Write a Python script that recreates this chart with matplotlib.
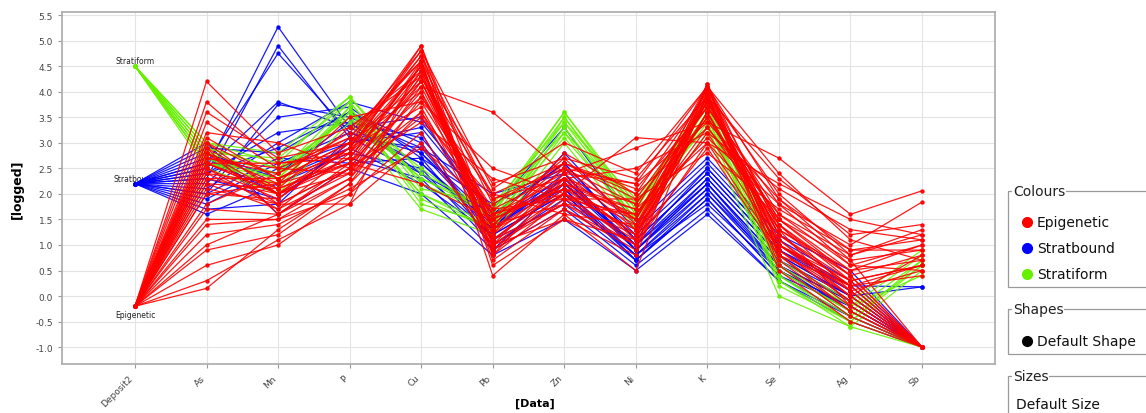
import matplotlib
matplotlib.use("Agg")
import matplotlib.pyplot as plt
from matplotlib.patches import Rectangle

# axes of the parallel plot
columns = ["Deposit2", "As", "Mn", "P", "Cu", "Pb", "Zn", "Ni", "K", "Se", "Ag", "Sb"]
deposit_names = ["Epigenetic", "Stratbound", "Stratiform"]
deposit_values = [-0.2, 2.2, 4.5]
deposit_colors = ["#ff0000", "#0000ff", "#66f000"]

# rows: As, Mn, P, Cu, Pb, Zn, Ni, K, Se, Ag, Sb
epigenetic = [
    [2.6, 2.0, 2.7, 4.5, 1.2, 2.3, 1.5, 3.9, 1.2, 0.2, -1.0],
    [2.8, 2.2, 2.9, 4.7, 1.0, 2.0, 1.3, 4.1, 1.0, 0.0, -1.0],
    [2.4, 1.8, 2.5, 4.3, 1.4, 2.5, 1.8, 3.7, 1.5, 0.4, -1.0],
    [3.0, 2.3, 3.0, 4.9, 0.8, 1.9, 1.1, 4.15, 0.8, -0.2, -1.0],
    [2.2, 1.7, 2.4, 4.0, 1.5, 2.2, 1.6, 3.5, 1.3, 0.5, 0.7],
    [1.5, 1.5, 2.3, 3.8, 1.6, 2.1, 1.4, 3.3, 1.4, 0.3, 0.6],
    [0.15, 1.3, 2.2, 3.6, 1.1, 1.8, 1.2, 3.6, 1.1, 0.1, 0.5],
    [0.6, 1.0, 2.0, 3.2, 0.9, 1.7, 1.0, 3.0, 0.9, 0.0, 0.8],
    [1.0, 1.6, 2.6, 4.2, 1.3, 2.0, 1.5, 3.8, 1.6, 0.6, 1.0],
    [3.4, 2.5, 3.1, 4.6, 1.8, 2.6, 2.0, 4.0, 2.0, 0.8, 1.2],
    [4.2, 2.8, 3.3, 4.4, 2.2, 2.7, 2.3, 3.9, 2.3, 1.2, 1.4],
    [3.8, 2.6, 2.8, 4.1, 3.6, 2.4, 2.9, 3.4, 2.7, 1.6, 2.06],
    [2.9, 2.1, 2.6, 3.9, 2.0, 2.6, 2.1, 3.7, 1.8, 1.0, 1.84],
    [2.5, 1.9, 2.9, 4.8, 0.6, 1.5, 0.8, 4.1, 0.6, -0.4, -1.0],
    [2.7, 2.4, 3.2, 4.6, 0.4, 1.6, 0.5, 4.0, 0.5, -0.5, -1.0],
    [2.3, 2.0, 2.4, 3.5, 1.9, 2.3, 2.5, 3.2, 2.1, 1.3, 1.1],
    [1.2, 1.4, 2.1, 2.9, 1.7, 1.9, 1.9, 2.8, 1.7, 0.9, 0.9],
    [2.0, 2.2, 3.5, 3.8, 2.5, 2.0, 3.1, 3.0, 2.2, 1.5, 1.2],
    [2.6, 2.1, 2.7, 4.4, 1.0, 2.4, 1.3, 3.8, 1.0, 0.2, -1.0],
    [3.1, 2.3, 2.8, 4.5, 1.3, 2.2, 1.7, 4.05, 1.4, 0.1, -1.0],
    [2.1, 1.8, 2.5, 4.3, 1.5, 2.7, 1.4, 3.9, 1.2, 0.3, -1.0],
    [2.8, 2.0, 3.0, 4.0, 1.1, 2.1, 1.2, 3.6, 0.9, -0.1, -1.0],
    [0.9, 1.2, 2.2, 4.1, 1.4, 1.8, 1.6, 3.5, 1.3, 0.4, 0.8],
    [0.3, 1.1, 1.8, 3.0, 1.0, 1.5, 1.1, 2.9, 0.8, 0.2, 0.6],
    [3.6, 2.7, 3.0, 4.7, 1.9, 2.5, 2.2, 4.1, 1.9, 0.7, -1.0],
    [2.4, 2.2, 2.6, 4.6, 0.7, 1.7, 0.9, 3.95, 0.7, -0.3, -1.0],
    [2.9, 1.6, 2.3, 4.2, 1.6, 2.3, 1.8, 3.7, 1.5, 0.5, 1.0],
    [2.0, 1.9, 2.9, 3.7, 1.2, 2.8, 2.0, 3.3, 1.6, 0.8, 1.3],
    [1.8, 2.4, 3.1, 4.8, 2.1, 3.0, 2.4, 4.1, 2.4, 1.1, 0.7],
    [2.6, 2.6, 2.7, 4.5, 0.9, 2.0, 1.0, 3.85, 1.1, 0.0, -1.0],
    [3.2, 3.0, 2.5, 3.4, 2.3, 1.9, 1.6, 3.1, 1.8, 0.6, 0.5],
    [2.5, 1.7, 2.8, 4.9, 1.3, 2.5, 1.5, 4.15, 1.3, -0.2, -1.0],
    [2.7, 2.5, 2.4, 4.4, 1.1, 2.2, 1.2, 4.0, 1.0, 0.1, -1.0],
    [1.4, 1.5, 2.0, 3.9, 1.7, 2.4, 2.2, 3.4, 1.9, 0.9, 1.1],
    [2.2, 2.1, 3.3, 4.3, 2.0, 1.6, 1.4, 3.6, 1.2, 0.2, 0.4],
    [3.0, 2.0, 2.6, 2.2, 1.5, 2.1, 1.7, 3.0, 1.5, 0.7, 0.9],
    [2.8, 1.8, 1.8, 4.6, 0.8, 2.3, 1.1, 3.9, 0.9, -0.1, -1.0],
    [2.3, 2.3, 3.0, 4.2, 1.4, 2.6, 1.9, 3.8, 1.4, 0.4, -1.0],
    [1.7, 1.6, 2.5, 3.6, 1.6, 2.0, 1.3, 3.2, 1.0, 0.3, 0.6],
    [2.6, 2.0, 2.9, 4.5, 1.0, 1.8, 1.0, 4.1, 0.8, -0.3, -1.0],
]

stratbound = [
    [2.5, 5.27, 3.3, 2.6, 1.4, 2.2, 0.9, 2.2, 0.7, -0.1, -1.0],
    [2.3, 4.9, 3.1, 2.4, 1.2, 2.0, 0.8, 2.0, 0.5, -0.2, -1.0],
    [2.6, 4.75, 3.2, 2.8, 1.5, 2.3, 1.0, 2.3, 0.8, 0.0, -1.0],
    [2.0, 3.75, 3.5, 2.9, 1.3, 2.4, 0.9, 2.1, 0.6, -0.3, -1.0],
    [1.8, 2.5, 3.0, 3.3, 1.6, 2.6, 1.1, 2.4, 0.9, 0.1, -1.0],
    [2.9, 2.8, 3.6, 3.0, 1.1, 2.1, 0.7, 1.9, 0.4, -0.4, -1.0],
    [1.6, 2.2, 2.8, 2.5, 1.0, 1.9, 0.8, 1.8, 0.5, -0.2, -1.0],
    [2.2, 3.5, 3.7, 2.7, 1.8, 2.5, 1.2, 2.5, 1.0, 0.2, 0.18],
    [2.7, 2.0, 2.7, 2.3, 0.9, 1.7, 0.6, 1.7, 0.3, -0.5, -1.0],
    [2.4, 3.2, 3.4, 3.1, 1.5, 2.2, 1.0, 2.2, 0.7, 0.0, -1.0],
    [3.0, 1.6, 2.5, 2.0, 0.8, 1.5, 0.5, 1.6, 0.3, -0.4, -1.0],
    [1.9, 2.6, 3.2, 2.6, 1.3, 2.8, 1.3, 2.6, 1.1, 0.3, -1.0],
    [2.1, 3.0, 3.8, 3.4, 1.7, 3.3, 1.4, 2.7, 1.2, 0.5, -1.0],
    [2.8, 2.3, 2.9, 2.2, 1.2, 2.0, 0.7, 2.0, 0.6, -0.1, -1.0],
    [1.7, 1.8, 3.1, 2.9, 2.0, 2.4, 0.9, 2.3, 0.8, 0.0, 0.18],
    [2.5, 3.8, 3.3, 3.5, 1.4, 2.1, 0.8, 2.1, 0.5, -0.3, -1.0],
    [2.0, 2.7, 2.6, 2.7, 1.1, 1.8, 0.7, 1.9, 0.4, -0.2, -1.0],
    [2.6, 2.4, 3.4, 2.4, 1.6, 2.6, 1.1, 2.4, 0.9, 0.2, -1.0],
    [2.3, 1.9, 3.0, 3.2, 0.9, 2.2, 1.0, 2.5, 1.0, 0.1, -1.0],
    [2.4, 2.9, 3.6, 2.8, 1.3, 2.3, 0.9, 2.2, 0.6, -0.1, -1.0],
]

stratiform = [
    [2.8, 2.4, 3.8, 2.2, 1.5, 3.4, 1.6, 3.7, 0.6, -0.4, 0.6],
    [2.6, 2.2, 3.6, 2.0, 1.3, 3.2, 1.4, 3.5, 0.4, -0.5, -1.0],
    [3.0, 2.6, 3.9, 2.4, 1.7, 3.6, 1.8, 3.9, 0.8, -0.2, 0.8],
    [2.7, 2.3, 3.7, 1.8, 1.4, 3.3, 1.5, 3.6, 0.3, -0.6, -1.0],
    [2.9, 2.5, 3.5, 2.3, 1.6, 3.5, 1.7, 3.8, 0.5, -0.3, 0.7],
    [2.5, 2.0, 3.4, 1.7, 1.2, 3.0, 1.3, 3.2, 0.0, -0.6, 0.5],
    [2.8, 2.7, 3.8, 2.1, 1.8, 3.4, 1.9, 3.7, 0.7, -0.1, 0.9],
    [2.6, 2.4, 3.6, 2.5, 1.5, 3.1, 1.5, 3.4, 0.4, -0.4, -1.0],
    [2.7, 2.1, 3.7, 1.9, 1.3, 3.5, 1.6, 3.5, 0.2, -0.5, 0.6],
    [3.0, 2.8, 3.9, 2.2, 1.6, 3.6, 1.7, 3.9, 0.6, -0.2, 0.4],
    [2.9, 2.5, 3.5, 2.0, 1.4, 3.3, 1.5, 3.6, 0.5, -0.3, -1.0],
    [2.6, 2.3, 3.6, 2.3, 1.7, 3.2, 1.8, 3.3, 0.3, -0.5, 0.7],
]

groups = [stratbound, stratiform, epigenetic]
group_idx = [1, 2, 0]

W, H = 1146, 414
fig = plt.figure(figsize=(W / 100, H / 100), dpi=100)
ax = fig.add_axes([62 / W, 1 - 365 / H, (995 - 62) / W, (365 - 13) / H])

xs = list(range(len(columns)))
for rows, gi in zip(groups, group_idx):
    col = deposit_colors[gi]
    for r in rows:
        ax.plot(xs, [deposit_values[gi]] + r, color=col, lw=0.9, marker="o",
                ms=2.2, mec=col, mfc=col, alpha=0.9, zorder=3)

# category labels on the Deposit2 axis
offsets = [-0.17, 0.1, 0.12]
for name, v, off in zip(deposit_names, deposit_values, offsets):
    ax.text(0, v + off, name, fontsize=5.5, ha="center", va="center",
            color="#222222", zorder=2)

ax.set_xlim(-1.02, 12.02)
ax.set_ylim(-1.33, 5.56)
ax.set_xticks(xs)
ax.set_xticklabels(columns, rotation=45, ha="right", fontsize=6.5, color="#444444")
yt = [i * 0.5 - 1.0 for i in range(14)]
ax.set_yticks(yt)
ax.set_yticklabels([f"{v:.1f}" for v in yt], fontsize=6.5, color="#444444")
ax.tick_params(length=3, color="#999999")
ax.grid(True, color="#e4e4e4", lw=0.8, zorder=0)
ax.set_axisbelow(True)
for s in ax.spines.values():
    s.set_color("#aaaaaa")
    s.set_linewidth(1.2)
ax.set_ylabel("[logged]", fontsize=9, fontweight="bold", labelpad=8)

# legend panel drawn in pixel coordinates
lg = fig.add_axes([0, 0, 1, 1], facecolor="none")
lg.set_xlim(0, W)
lg.set_ylim(H, 0)
lg.axis("off")

lg.text(535, 404, "[Data]", fontsize=8, fontweight="bold", ha="center", va="center")

def group_box(top, bottom, title):
    lg.add_patch(Rectangle((1008, top), 200, bottom - top, fill=False,
                           ec="#9a9a9a", lw=0.9, clip_on=False))
    lg.text(1013, top, title, fontsize=10, va="center", ha="left", color="#222222",
            bbox=dict(fc="white", ec="none", pad=0.6))

group_box(192, 288, "Colours")
for name, col, y in zip(deposit_names, deposit_colors, [223, 249, 275]):
    lg.plot(1027, y, "o", ms=7, color=col)
    lg.text(1037, y, name, fontsize=10, va="center", color="#111111")

group_box(310, 355, "Shapes")
lg.plot(1027, 342, "o", ms=7, color="black")
lg.text(1037, 342, "Default Shape", fontsize=10, va="center", color="#111111")

group_box(377, 440, "Sizes")
lg.text(1016, 405, "Default Size", fontsize=10, va="center", color="#111111")

fig.savefig("out.png", dpi=100, facecolor="white")
